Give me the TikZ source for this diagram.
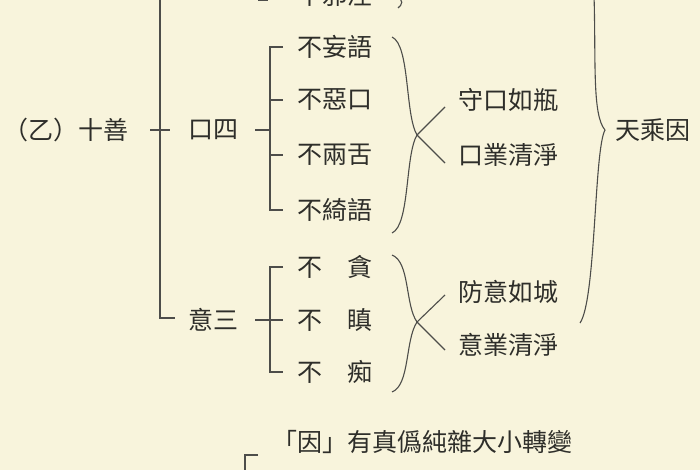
\documentclass[tikz,border=0pt]{standalone}
\usepackage{fontspec}
\setmainfont{Noto Sans CJK TC}
\definecolor{bg}{HTML}{F8F4DC}
\definecolor{ink}{HTML}{2E2E2A}
\begin{document}
\begin{tikzpicture}[x=1pt,y=-1pt,
  t/.style={font=\fontsize{25}{25}\selectfont, text=ink, inner sep=0pt, anchor=west},
  ln/.style={draw=ink!85, line width=1.1pt}]
\fill[bg] (0,0) rectangle (700,470);
\useasboundingbox (0,0) rectangle (700,470);
% root
\node[t] (root) at (3,130) {（乙）十善};
\node[t] (k4) at (188,130) {口四};
\node[t] (y3) at (188,320) {意三};
\coordinate (vtop) at (160,-5);
\coordinate (vbot) at (160,318);
\draw[ln] (vtop) -- (vbot) -- (175,318);
\draw[ln] (150,130) -- (170,130);
% top partial
\node[t] (s0) at (297,-5) {不邪淫};
\draw[ln] (258,0) -- (268,0);
\draw[ln] (395,-5) .. controls (405,0) and (402,5) .. (398,8);
% mouth group
\node[t] (a1) at (297,47) {不妄語};
\node[t] (a2) at (297,100) {不惡口};
\node[t] (a3) at (297,155) {不兩舌};
\node[t] (a4) at (297,210) {不綺語};
\draw[ln] (255,130) -- (270,130);
\draw[ln] (283,47) -- (270,47) -- (270,210) -- (283,210);
\draw[ln] (270,100) -- (283,100);
\draw[ln] (270,155) -- (283,155);
\coordinate (tipA) at (417,135);
\draw[ln] (392,37) .. controls (410,45) and (405,115) .. (tipA);
\draw[ln] (392,233) .. controls (410,225) and (405,155) .. (tipA);
\node[t] (b1) at (458,100) {守口如瓶};
\node[t] (b2) at (458,155) {口業清淨};
\draw[ln] (tipA) -- (445,107);
\draw[ln] (tipA) -- (445,163);
% mind group
\node[t] (c1) at (297,267) {不　貪};
\node[t] (c2) at (297,320) {不　瞋};
\node[t] (c3) at (297,372) {不　痴};
\draw[ln] (255,320) -- (283,320);
\draw[ln] (283,267) -- (270,267) -- (270,372) -- (283,372);
\coordinate (tipB) at (417,322);
\draw[ln] (392,255) .. controls (410,262) and (405,305) .. (tipB);
\draw[ln] (392,392) .. controls (410,385) and (405,340) .. (tipB);
\node[t] (d1) at (458,292) {防意如城};
\node[t] (d2) at (458,345) {意業清淨};
\draw[ln] (tipB) -- (445,295);
\draw[ln] (tipB) -- (445,350);
% big brace
\coordinate (tipC) at (605,130);
\node[t] (e1) at (615,130) {天乘因};
\draw[ln] (594,-5) .. controls (596,60) and (592,115) .. (tipC);
\draw[ln] (tipC) .. controls (594,150) and (596,300) .. (580,323);
% bottom
\node[t] (f1) at (272,442) {「因」有真僞純雜大小轉變};
\draw[ln] (258,455) -- (245,455) -- (245,475);
\end{tikzpicture}
\end{document}
